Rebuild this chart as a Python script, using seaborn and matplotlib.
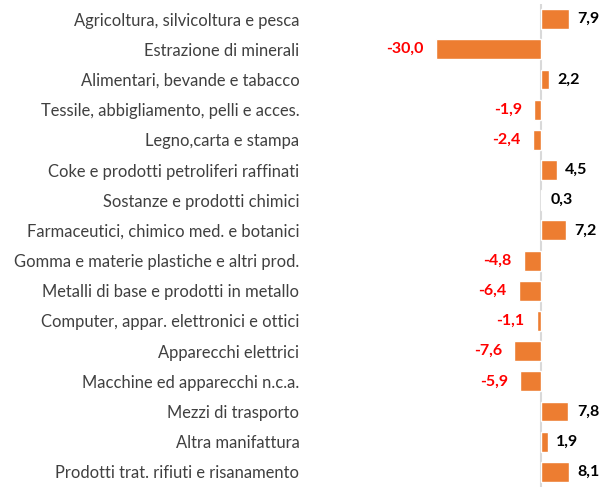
import matplotlib
matplotlib.use("Agg")
import matplotlib.pyplot as plt
import seaborn as sns
import pandas as pd

# -----------------------------
# Data
# -----------------------------

categories = [
    "Agricoltura, silvicoltura e pesca",
    "Estrazione di minerali",
    "Alimentari, bevande e tabacco",
    "Tessile, abbigliamento, pelli e acces.",
    "Legno,carta e stampa",
    "Coke e prodotti petroliferi raffinati",
    "Sostanze e prodotti chimici",
    "Farmaceutici, chimico med. e botanici",
    "Gomma e materie plastiche e altri prod.",
    "Metalli di base e prodotti in metallo",
    "Computer, appar. elettronici e ottici",
    "Apparecchi elettrici",
    "Macchine ed apparecchi n.c.a.",
    "Mezzi di trasporto",
    "Altra manifattura",
    "Prodotti trat. rifiuti e risanamento",
]
values = [7.9, -30.0, 2.2, -1.9, -2.4, 4.5, 0.3, 7.2,
          -4.8, -6.4, -1.1, -7.6, -5.9, 7.8, 1.9, 8.1]

df = pd.DataFrame({"settore": categories, "valore": values})

# -----------------------------
# Plot
# -----------------------------

sns.set_style("white")
plt.rcParams["font.family"] = ["Lato", "DejaVu Sans"]

fig = plt.figure(figsize=(6.01, 4.87), dpi=100)
ax = fig.add_axes([305 / 601, 0, 296 / 601, 483 / 487])

sns.barplot(data=df, x="valore", y="settore", orient="h",
            color="#ED7D31", width=0.66, saturation=1, ax=ax)

ax.axvline(0, color="#D9D9D9", lw=1.5, zorder=0)
ax.set_xlim(-67.4, 17.1)
ax.set_ylim(len(categories) - 0.5, -0.5)

for i, v in enumerate(values):
    txt = f"{v:.1f}".replace(".", ",")
    if v >= 0:
        ax.annotate(txt, (v, i), xytext=(6, 0), textcoords="offset points",
                    ha="left", va="center", fontsize=11.5,
                    fontweight="bold", color="black")
    else:
        ax.annotate(txt, (v, i), xytext=(-9, 0), textcoords="offset points",
                    ha="right", va="center", fontsize=11.5,
                    fontweight="bold", color="#FF0000")

ax.set_xlabel("")
ax.set_ylabel("")
ax.set_xticks([])
ax.tick_params(axis="y", length=0, pad=4, labelsize=11.9, labelcolor="#404040")
sns.despine(ax=ax, left=True, bottom=True)

fig.savefig("out.png", dpi=100)
